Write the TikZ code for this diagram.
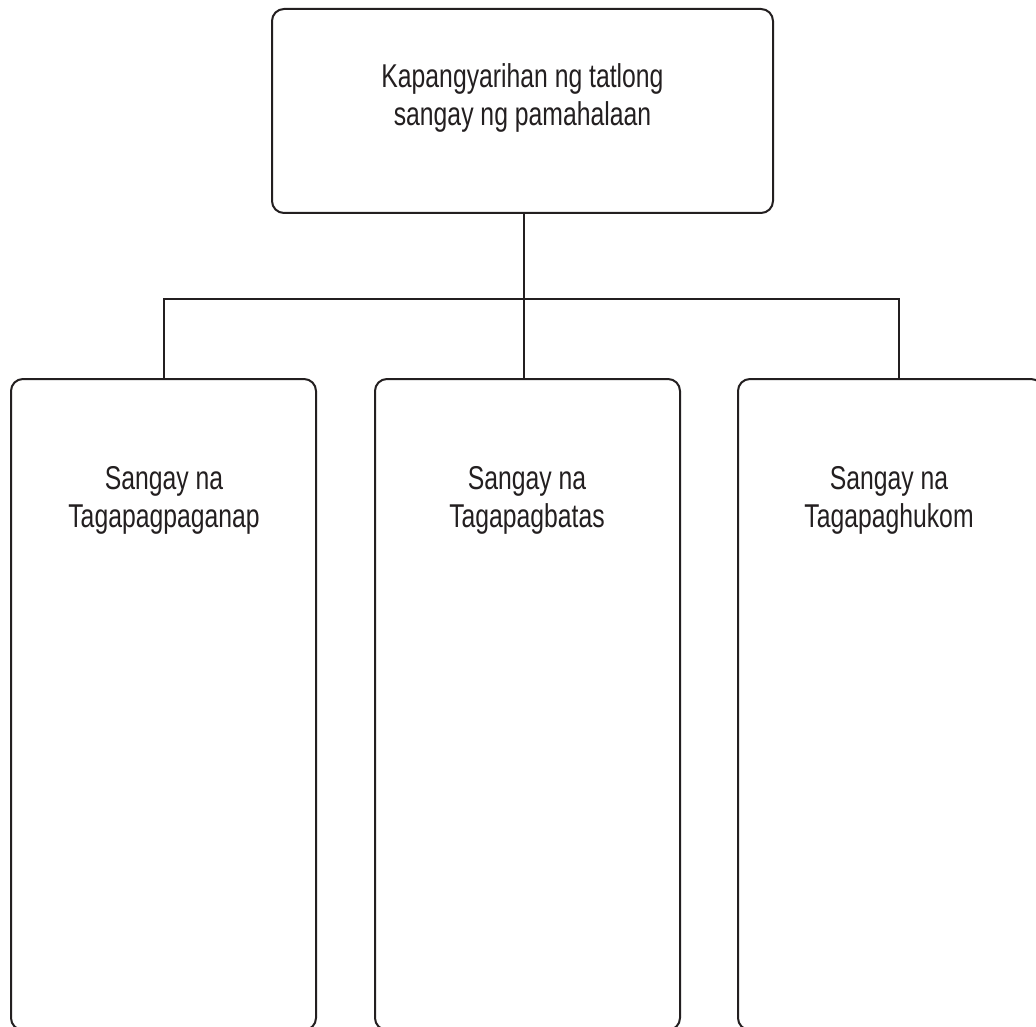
\documentclass[tikz,border=0pt]{standalone}
\usepackage{fontspec}
\setmainfont{Liberation Sans}[FakeStretch=0.75]
\definecolor{ink}{HTML}{231F20}
\begin{document}
\begin{tikzpicture}[x=1pt,y=-1pt,
  box/.style={draw=ink, line width=2pt, rounded corners=12pt, rectangle, inner sep=0pt},
  lbl/.style={text=ink, align=center, inner sep=0pt, font=\fontsize{33}{38}\selectfont},
  wire/.style={draw=ink, line width=2pt}]
\useasboundingbox (0,0) rectangle (1036,1027);
\clip (0,0) rectangle (1036,1027);
\node[box, minimum width=501pt, minimum height=204pt] (top) at (522.5,111) {};
\node[lbl, anchor=base] (toptxt) at (522.5,126) {Kapangyarihan ng tatlong\\sangay ng pamahalaan};
\node[box, minimum width=305pt, minimum height=651pt] (lb) at (163.5,704.5) {};
\node[box, minimum width=305pt, minimum height=651pt] (mb) at (527.5,704.5) {};
\node[box, minimum width=305pt, minimum height=651pt] (rb) at (890.5,704.5) {};
\node[lbl, anchor=base] (lt) at (164,527) {Sangay na\\Tagapagpaganap};
\node[lbl, anchor=base] (mt) at (527,527) {Sangay na\\Tagapagbatas};
\node[lbl, anchor=base] (rt) at (889,527) {Sangay na\\Tagapaghukom};
\coordinate (j) at (524,299);
\coordinate (jl) at (163.5,299);
\coordinate (jr) at (899,299);
\draw[wire] (j |- top.south) -- (j);
\draw[wire] (jl |- lb.north) -- (jl) -- (jr) -- (jr |- rb.north);
\draw[wire] (j) -- (j |- mb.north);
\end{tikzpicture}
\end{document}
